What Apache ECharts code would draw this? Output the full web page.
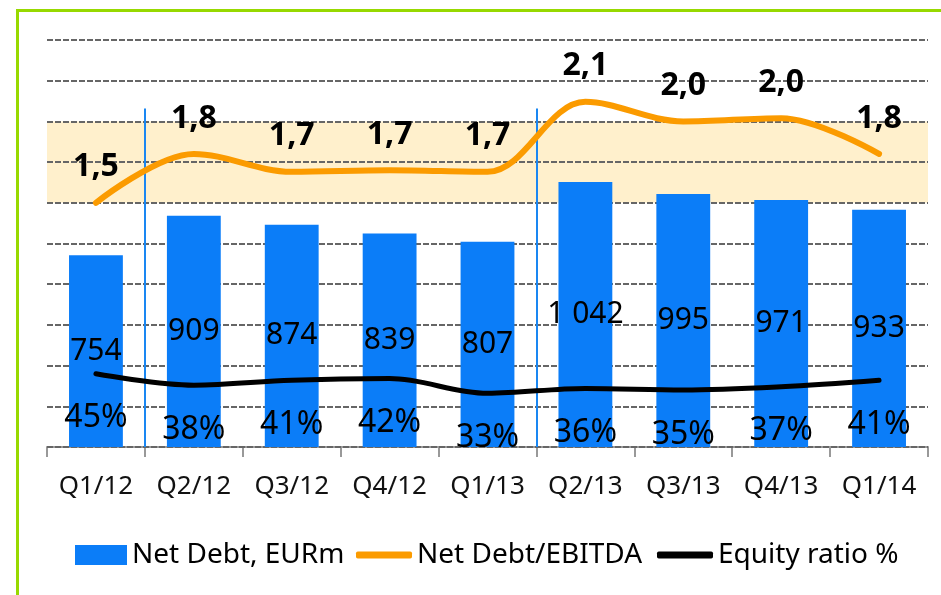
<!DOCTYPE html>
<html>
<head>
<meta charset="utf-8">
<script src="https://cdn.jsdelivr.net/npm/echarts@6/dist/echarts.min.js"></script>
<style>
  html, body { margin: 0; padding: 0; background: #fff; }
  #wrap { position: relative; width: 941px; height: 595px; overflow: hidden; }
  #frame { position: absolute; left: 16px; top: 9px; width: 1000px; height: 700px;
           border-left: 3px solid #97d900; border-top: 3px solid #97d900; }
  #chart { position: absolute; left: 0; top: 0; width: 941px; height: 595px; }
</style>
</head>
<body>
<div id="wrap">
  <div id="frame"></div>
  <div id="chart"></div>
</div>
<script>
// quarters
const quarters = ['Q1/12', 'Q2/12', 'Q3/12', 'Q4/12', 'Q1/13', 'Q2/13', 'Q3/13', 'Q4/13', 'Q1/14']
// Net debt, EURm
const netDebt = [754, 909, 874, 839, 807, 1042, 995, 971, 933]
// Net debt / EBITDA
const ndEbitda = [1.5, 1.8, 1.69, 1.7, 1.69, 2.12, 2.0, 2.02, 1.8]
// equity ratio
const equityRatio = [0.45, 0.38, 0.41, 0.42, 0.33, 0.36, 0.35, 0.37, 0.41]
// target band for ND/EBITDA and the period separators (between quarters)
const targetBand = [1.5, 2.0]
const separators = [1, 5]

const font = 'Noto Sans'
const blue = '#0b7df8'

const myChart = echarts.init(document.getElementById('chart'))

const legendBase = {
  top: 541,
  padding: 0,
  itemGap: 0,
  textStyle: { fontFamily: font, fontSize: 28, color: '#000' }
}

const option = {
  animation: false,
  grid: { left: 47, right: 13, top: 40, bottom: 148 },
  legend: [
    Object.assign({}, legendBase, {
      left: 75, data: ['Net Debt, EURm'], icon: 'rect', itemWidth: 52, itemHeight: 20
    }),
    Object.assign({}, legendBase, {
      left: 356, data: ['Net Debt/EBITDA'], icon: 'roundRect', itemWidth: 56, itemHeight: 7
    }),
    Object.assign({}, legendBase, {
      left: 657, data: ['Equity ratio %'], icon: 'roundRect', itemWidth: 56, itemHeight: 7
    })
  ],
  xAxis: [
    {
      type: 'category',
      data: quarters,
      axisLine: { lineStyle: { color: '#999', width: 2 } },
      axisTick: { show: true, length: 10, lineStyle: { color: '#999', width: 2 } },
      axisLabel: { fontFamily: font, fontSize: 26, color: '#111', margin: 27 }
    },
    { type: 'value', min: 0, max: quarters.length, show: false }
  ],
  yAxis: [
    {
      type: 'value', min: 0, max: 1600, interval: 160,
      z: 1.5,
      axisLabel: { show: false },
      axisLine: { show: false },
      axisTick: { show: false },
      splitLine: { lineStyle: { color: '#666', width: 2, type: [6, 2] } }
    },
    {
      type: 'value', min: 0, max: 2.5, interval: 0.25,
      axisLabel: { show: false },
      axisLine: { show: false },
      axisTick: { show: false },
      splitLine: { show: false }
    }
  ],
  series: [
    {
      name: 'band',
      type: 'line',
      xAxisIndex: 1,
      yAxisIndex: 1,
      data: [],
      z: 0,
      silent: true,
      markArea: {
        silent: true,
        z: 0,
        itemStyle: { color: '#fff0cc' },
        data: [[{ yAxis: targetBand[0] }, { yAxis: targetBand[1] }]]
      },
      markLine: {
        silent: true,
        z: 3,
        symbol: 'none',
        label: { show: false },
        lineStyle: { color: '#1a87f2', width: 2, type: 'solid' },
        data: separators.map((x) => [{ coord: [x, 2.08] }, { coord: [x, 0] }])
      }
    },
    {
      name: 'Net Debt, EURm',
      type: 'bar',
      data: netDebt,
      barWidth: '55%',
      itemStyle: { color: blue },
      label: {
        show: true,
        position: 'inside',
        fontFamily: font,
        fontSize: 30,
        color: '#000',
        formatter: (p) => String(p.value).replace(/\B(?=(\d{3})+(?!\d))/g, ' ')
      }
    },
    {
      name: 'Net Debt/EBITDA',
      type: 'line',
      yAxisIndex: 1,
      data: ndEbitda,
      smooth: 0.35,
      symbol: 'circle',
      symbolSize: 1,
      showSymbol: true,
      lineStyle: { color: '#fb9b00', width: 6, cap: 'round' },
      itemStyle: { color: '#fb9b00' },
      label: {
        show: true,
        position: 'top',
        distance: 19,
        fontFamily: font,
        fontSize: 32,
        fontWeight: 'bold',
        color: '#000',
        formatter: (p) => p.value.toFixed(1).replace('.', ',')
      }
    },
    {
      name: 'Equity ratio %',
      type: 'line',
      yAxisIndex: 1,
      data: equityRatio,
      smooth: 0.35,
      symbol: 'circle',
      symbolSize: 1,
      showSymbol: true,
      lineStyle: { color: '#000', width: 5, cap: 'round' },
      itemStyle: { color: '#000' },
      label: {
        show: true,
        position: 'bottom',
        distance: 28,
        fontFamily: font,
        fontSize: 32,
        color: '#000',
        formatter: (p) => Math.round(p.value * 100) + '%'
      }
    }
  ]
}

myChart.setOption(option)
</script>
</body>
</html>
